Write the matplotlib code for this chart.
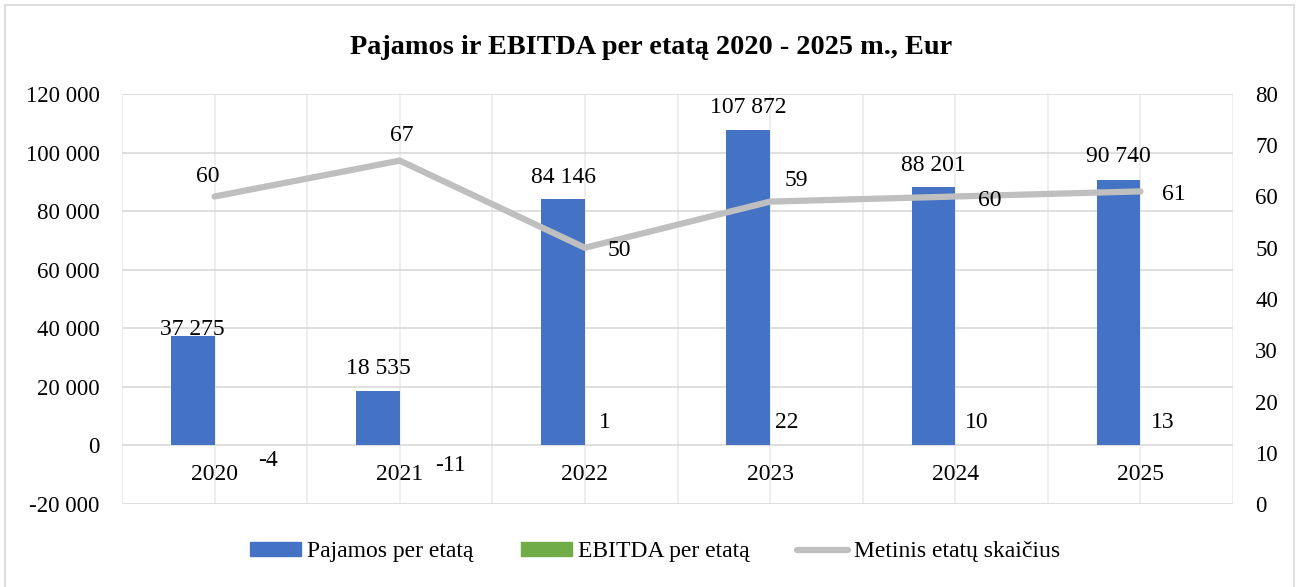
import matplotlib
matplotlib.use("Agg")
import matplotlib.pyplot as plt
from matplotlib.patches import Rectangle, Patch
from matplotlib.lines import Line2D
import numpy as np

# ---- data ----
years = ["2020", "2021", "2022", "2023", "2024", "2025"]
pajamos = [37275, 18535, 84146, 107872, 88201, 90740]
ebitda = [-4, -11, 1, 22, 10, 13]
etatai = [60, 67, 50, 59, 60, 61]

title = "Pajamos ir EBITDA per etatą 2020 - 2025 m., Eur"
series_labels = ["Pajamos per etatą", "EBITDA per etatą", "Metinis etatų skaičius"]
left_ticks = list(range(-20000, 120001, 20000))
right_ticks = list(range(0, 81, 10))

# ---- label offsets (pixels, x right / y up) ----
paj_off = [(0, 9), (0, 25), (0, 24), (0, 25), (0, 24.5), (0, 25.5)]
ebi_off = [(32, -12.5), (29, -17.5), (-2, 25), (-5, 25), (0, 25), (0, 25)]
eta_off = [(-7, 23), (2, 27.5), (34, -0.7), (26, 23.6), (34.6, -1.5), (33, -0.6)]

BLUE = "#4472C4"
GREEN = "#70AD47"
GRAY = "#BFBFBF"
GRID = "#D9D9D9"
VGRID = "#EBEBEB"
FS = 17
PT = 0.72  # points per pixel at dpi 100
DIGIT_HALF = 8  # half height of digits in px

plt.rcParams['font.family'] = ['Liberation Serif', 'DejaVu Serif']

W, H = 1302, 587
fig = plt.figure(figsize=(W / 100, H / 100), dpi=100)
fig.patch.set_facecolor('white')
fig.add_artist(Rectangle((5 / W, -0.01), (1294 - 5) / W, 1 - 5 / H + 0.01,
                         transform=fig.transFigure, fill=False,
                         edgecolor=GRID, lw=1.2))

ax = fig.add_axes([122 / W, 1 - 504 / H, (1233 - 122) / W, 410 / H])
x = np.arange(len(years))
bw = 0.236
ax.bar(x - bw / 2, pajamos, bw, color=BLUE, zorder=2)
ax.bar(x + bw / 2, ebitda, bw, color=GREEN, zorder=2)
ax.set_xlim(-0.5, len(years) - 0.5)
ax.set_ylim(-20000, 120000)
ax.set_yticks(left_ticks)
ax.set_yticklabels([f"{v:,}".replace(",", " ") for v in left_ticks])
for s in ax.spines.values():
    s.set_visible(False)
ax.tick_params(axis='both', length=0)
ax.tick_params(axis='y', labelsize=16.5, pad=16)
ax.set_xticks([])
for v in left_ticks:
    ax.axhline(v, color=GRID, lw=1.2, zorder=1)
for xv in np.arange(-0.5, len(years) - 0.5 + 0.01, 0.5):
    ax.axvline(xv, color=VGRID, lw=1.2, zorder=0.5)

# year labels just below zero line
for i, yr in enumerate(years):
    ax.annotate(yr, (i, 0), xytext=(0, (-27 - DIGIT_HALF) * PT),
                textcoords='offset points', ha='center', va='baseline',
                fontsize=FS)

# data labels
for i, v in enumerate(pajamos):
    dx, dy = paj_off[i]
    ax.annotate(f"{v:,}".replace(",", " "), (i - bw / 2, v),
                xytext=(dx * PT, (dy - DIGIT_HALF) * PT),
                textcoords='offset points', ha='center', va='baseline',
                fontsize=FS, zorder=4)
for i, v in enumerate(ebitda):
    dx, dy = ebi_off[i]
    ax.annotate(f"{v}", (i + bw / 2, 0),
                xytext=(dx * PT, (dy - DIGIT_HALF) * PT),
                textcoords='offset points', ha='center', va='baseline',
                fontsize=FS, zorder=4)

ax2 = ax.twinx()
ax2.plot(x, etatai, color=GRAY, lw=4.5, solid_capstyle='round',
         solid_joinstyle='round', zorder=3)
ax2.set_ylim(0, 80)
ax2.set_yticks(right_ticks)
for s in ax2.spines.values():
    s.set_visible(False)
ax2.tick_params(axis='y', length=0, labelsize=16.5, pad=16)
for i, v in enumerate(etatai):
    dx, dy = eta_off[i]
    ax2.annotate(f"{v}", (i, v), xytext=(dx * PT, (dy - DIGIT_HALF) * PT),
                 textcoords='offset points', ha='center', va='baseline',
                 fontsize=FS, zorder=5)

fig.text(651 / W, 1 - 47 / H, title, ha='center', va='center',
         fontsize=20.3, fontweight='bold')

handles = [Patch(color=BLUE), Patch(color=GREEN),
           Line2D([], [], color=GRAY, lw=4.5, solid_capstyle='round')]
fig.legend(handles, series_labels, loc='center',
           bbox_to_anchor=(655 / W, 1 - 552 / H), ncol=3, frameon=False,
           fontsize=FS, handlelength=2.16, handletextpad=0.25,
           columnspacing=2.0, handleheight=0.55)

fig.savefig("out.png", dpi=100)
